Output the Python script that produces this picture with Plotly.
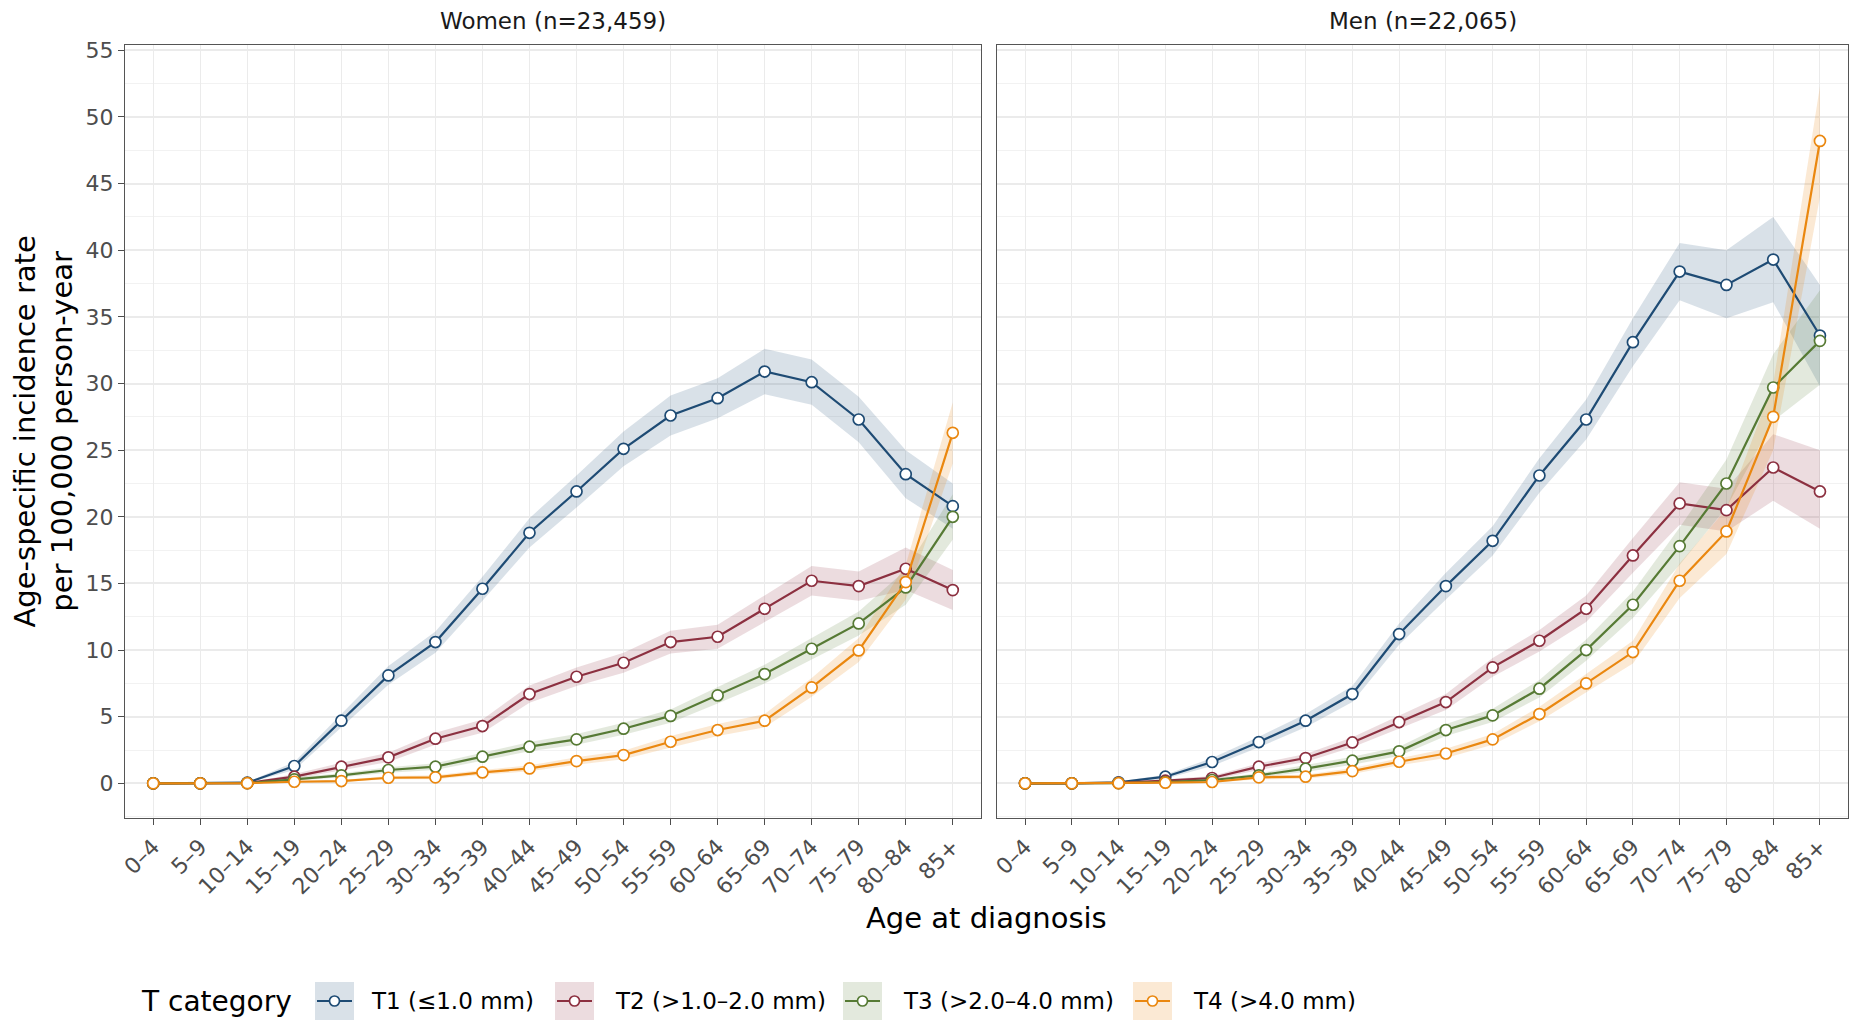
import plotly.graph_objects as go

ages = ["0–4", "5–9", "10–14", "15–19", "20–24", "25–29", "30–34", "35–39", "40–44",
        "45–49", "50–54", "55–59", "60–64", "65–69", "70–74", "75–79", "80–84", "85+"]

categories = ["T1 (≤1.0 mm)", "T2 (>1.0–2.0 mm)", "T3 (>2.0–4.0 mm)", "T4 (>4.0 mm)"]
colors = ["#1E4B74", "#8C3040", "#567A34", "#EA870F"]
fills = ["rgba(30,75,116,0.17)", "rgba(140,48,64,0.17)", "rgba(86,122,52,0.17)", "rgba(234,135,15,0.18)"]

panel_titles = ["Women (n=23,459)", "Men (n=22,065)"]
legend_title = "T category"

# Women
women_t1 = [0, 0, 0.05, 1.3, 4.7, 8.1, 10.6, 14.6, 18.8, 21.9, 25.1, 27.6, 28.9, 30.9, 30.1, 27.3, 23.2, 20.8]
women_t1_lo = [0, 0, 0.02, 1.0, 4.2, 7.4, 9.8, 13.7, 17.7, 20.7, 23.8, 26.1, 27.4, 29.2, 28.4, 25.6, 21.4, 19.1]
women_t1_hi = [0, 0, 0.1, 1.6, 5.2, 8.8, 11.4, 15.5, 19.9, 23.1, 26.4, 29.1, 30.4, 32.6, 31.8, 29.0, 25.0, 22.5]

women_t2 = [0, 0, 0.02, 0.5, 1.25, 1.95, 3.35, 4.3, 6.7, 8.0, 9.05, 10.6, 11.0, 13.1, 15.2, 14.8, 16.1, 14.5]
women_t2_lo = [0, 0, 0, 0.35, 0.95, 1.6, 2.9, 3.8, 6.05, 7.3, 8.3, 9.75, 10.1, 12.1, 14.1, 13.7, 14.5, 13.0]
women_t2_hi = [0, 0, 0.05, 0.7, 1.55, 2.3, 3.8, 4.8, 7.35, 8.7, 9.8, 11.45, 11.9, 14.1, 16.3, 15.9, 17.7, 16.0]

women_t3 = [0, 0, 0.02, 0.3, 0.6, 1.0, 1.25, 2.0, 2.75, 3.3, 4.1, 5.06, 6.6, 8.2, 10.1, 12.0, 14.7, 20.0]
women_t3_lo = [0, 0, 0, 0.2, 0.45, 0.8, 1.0, 1.7, 2.4, 2.9, 3.65, 4.55, 6.0, 7.5, 9.3, 11.1, 13.4, 18.3]
women_t3_hi = [0, 0, 0.05, 0.45, 0.75, 1.2, 1.5, 2.3, 3.1, 3.7, 4.55, 5.55, 7.2, 8.9, 10.9, 12.9, 16.0, 21.7]

women_t4 = [0, 0, 0.01, 0.12, 0.17, 0.42, 0.45, 0.82, 1.12, 1.67, 2.12, 3.12, 4.0, 4.7, 7.2, 9.97, 15.1, 26.3]
women_t4_lo = [0, 0, 0, 0.05, 0.1, 0.3, 0.3, 0.65, 0.9, 1.4, 1.8, 2.7, 3.55, 4.2, 6.5, 9.1, 13.8, 24.0]
women_t4_hi = [0, 0, 0.03, 0.2, 0.25, 0.55, 0.6, 1.0, 1.35, 1.95, 2.45, 3.55, 4.45, 5.2, 7.9, 10.9, 16.4, 28.6]

# Men
men_t1 = [0, 0, 0.08, 0.5, 1.6, 3.1, 4.7, 6.7, 11.2, 14.8, 18.2, 23.1, 27.3, 33.1, 38.4, 37.4, 39.3, 33.6]
men_t1_lo = [0, 0, 0.03, 0.35, 1.3, 2.7, 4.2, 6.1, 10.4, 13.8, 17.1, 21.8, 25.8, 31.3, 36.25, 34.9, 36.1, 29.8]
men_t1_hi = [0, 0, 0.13, 0.65, 1.9, 3.5, 5.2, 7.3, 12.0, 15.8, 19.3, 24.4, 28.8, 34.9, 40.55, 40.0, 42.5, 37.4]

men_t2 = [0, 0, 0.03, 0.2, 0.4, 1.25, 1.9, 3.07, 4.6, 6.1, 8.7, 10.7, 13.1, 17.1, 21.0, 20.5, 23.7, 21.9]
men_t2_lo = [0, 0, 0, 0.1, 0.25, 1.0, 1.6, 2.7, 4.1, 5.5, 8.0, 9.9, 12.1, 15.8, 19.4, 18.9, 21.2, 19.1]
men_t2_hi = [0, 0, 0.06, 0.3, 0.55, 1.5, 2.2, 3.45, 5.1, 6.7, 9.4, 11.5, 14.1, 18.4, 22.6, 22.1, 26.2, 25.0]

men_t3 = [0, 0, 0.02, 0.1, 0.25, 0.6, 1.1, 1.7, 2.4, 4.0, 5.1, 7.1, 10.0, 13.4, 17.8, 22.5, 29.7, 33.2]
men_t3_lo = [0, 0, 0, 0.05, 0.15, 0.45, 0.85, 1.4, 2.05, 3.55, 4.6, 6.45, 9.2, 12.4, 16.4, 20.7, 27.2, 29.9]
men_t3_hi = [0, 0, 0.04, 0.15, 0.35, 0.75, 1.35, 2.0, 2.75, 4.45, 5.6, 7.75, 10.8, 14.4, 19.2, 24.3, 32.2, 37.0]

men_t4 = [0, 0, 0.01, 0.05, 0.1, 0.45, 0.5, 0.92, 1.62, 2.24, 3.3, 5.2, 7.5, 9.85, 15.2, 18.9, 27.5, 48.2]
men_t4_lo = [0, 0, 0, 0.02, 0.05, 0.3, 0.35, 0.7, 1.35, 1.9, 2.9, 4.65, 6.8, 9.0, 13.9, 17.2, 25.0, 44.0]
men_t4_hi = [0, 0, 0.02, 0.08, 0.15, 0.6, 0.65, 1.15, 1.9, 2.6, 3.7, 5.75, 8.2, 10.7, 16.5, 20.6, 30.0, 52.3]

y_ticks = [0, 5, 10, 15, 20, 25, 30, 35, 40, 45, 50, 55]

panels = [
    [(women_t1, women_t1_lo, women_t1_hi), (women_t2, women_t2_lo, women_t2_hi),
     (women_t3, women_t3_lo, women_t3_hi), (women_t4, women_t4_lo, women_t4_hi)],
    [(men_t1, men_t1_lo, men_t1_hi), (men_t2, men_t2_lo, men_t2_hi),
     (men_t3, men_t3_lo, men_t3_hi), (men_t4, men_t4_lo, men_t4_hi)],
]

FONT = "DejaVu Sans"
W, H = 1854, 1021
xi = list(range(len(ages)))

fig = go.Figure()

for p, series in enumerate(panels):
    xa = "x" if p == 0 else "x2"
    ya = "y" if p == 0 else "y2"
    for k, (val, lo, hi) in enumerate(series):
        fig.add_trace(go.Scatter(
            x=xi + xi[::-1], y=hi + lo[::-1], fill="toself", fillcolor=fills[k],
            line=dict(width=0), mode="lines", hoverinfo="skip", showlegend=False,
            xaxis=xa, yaxis=ya))
    for k, (val, lo, hi) in enumerate(series):
        fig.add_trace(go.Scatter(
            x=xi, y=val, mode="lines+markers", name=categories[k],
            line=dict(color=colors[k], width=2.2),
            marker=dict(symbol="circle", size=11, color="white",
                        line=dict(color=colors[k], width=1.7)),
            showlegend=False, xaxis=xa, yaxis=ya))

L1, R1 = 125 / W, 981 / W
L2, R2 = 997 / W, 1848 / W
B, T = 1 - 818 / H, 1 - 45 / H

common_x = dict(
    tickmode="array", tickvals=xi, ticktext=ages, range=[-0.6, 17.6],
    tickangle=-45, tickfont=dict(family=FONT, size=22, color="#4D4D4D"),
    ticks="outside", ticklen=6, tickcolor="#4D4D4D", tickwidth=1,
    showgrid=True, gridcolor="#EBEBEB", gridwidth=1.2,
    showline=True, linecolor="#555555", linewidth=1.2, mirror=True,
    zeroline=False, fixedrange=True,
)
common_y = dict(
    range=[-2.6, 55.4], tickmode="array", tickvals=y_ticks,
    showgrid=True, gridcolor="#EBEBEB", gridwidth=1.6,
    minor=dict(dtick=2.5, tick0=0, showgrid=True, gridcolor="#F2F2F2", gridwidth=1),
    showline=True, linecolor="#555555", linewidth=1.2, mirror=True,
    zeroline=False, fixedrange=True,
)

fig.update_layout(
    width=W, height=H,
    margin=dict(l=0, r=0, t=0, b=0, autoexpand=False),
    paper_bgcolor="white", plot_bgcolor="white",
    font=dict(family=FONT, color="black"),
    xaxis=dict(domain=[L1, R1], anchor="y", **common_x),
    xaxis2=dict(domain=[L2, R2], anchor="y2", **common_x),
    yaxis=dict(domain=[B, T], anchor="x", ticks="outside", ticklen=6, tickcolor="#4D4D4D",
               tickfont=dict(family=FONT, size=22, color="#4D4D4D"), **common_y),
    yaxis2=dict(domain=[B, T], anchor="x2", matches="y", showticklabels=False, ticks="", **common_y),
    showlegend=False,
)

annotations = [
    dict(text=panel_titles[0], x=(L1 + R1) / 2, y=1 - 21 / H, xref="paper", yref="paper",
         showarrow=False, font=dict(family=FONT, size=23, color="#1A1A1A"), xanchor="center", yanchor="middle"),
    dict(text=panel_titles[1], x=(L2 + R2) / 2, y=1 - 21 / H, xref="paper", yref="paper",
         showarrow=False, font=dict(family=FONT, size=23, color="#1A1A1A"), xanchor="center", yanchor="middle"),
    dict(text="Age at diagnosis", x=(L1 + R2) / 2, y=1 - 918 / H, xref="paper", yref="paper",
         showarrow=False, font=dict(family=FONT, size=29, color="black"), xanchor="center", yanchor="middle"),
    dict(text="Age-specific incidence rate<br>per 100,000 person-year", x=43 / W, y=(B + T) / 2,
         xref="paper", yref="paper", textangle=-90, showarrow=False,
         font=dict(family=FONT, size=29, color="black"), xanchor="center", yanchor="middle"),
    dict(text=legend_title, x=139 / W, y=1 - 1001 / H, xref="paper", yref="paper",
         showarrow=False, font=dict(family=FONT, size=28, color="black"), xanchor="left", yanchor="middle"),
]

# hand-built legend (key box with band fill, line and open marker, then label)
key_left = [315, 555, 843, 1133]
text_left = [369, 613, 901, 1191]
key_w, key_top, key_bot = 39, 982, 1020
ky = 1 - 1001 / H
shapes = []
for k in range(len(categories)):
    x0 = key_left[k] / W
    x1 = (key_left[k] + key_w) / W
    xc = (key_left[k] + key_w / 2) / W
    shapes.append(dict(type="rect", xref="paper", yref="paper", x0=x0, x1=x1,
                       y0=1 - key_bot / H, y1=1 - key_top / H, fillcolor=fills[k], line=dict(width=0), layer="below"))
    shapes.append(dict(type="line", xref="paper", yref="paper", x0=(key_left[k] + 2) / W,
                       x1=(key_left[k] + key_w - 2) / W, y0=ky, y1=ky,
                       line=dict(color=colors[k], width=2.2)))
    shapes.append(dict(type="circle", xref="paper", yref="paper",
                       x0=xc - 5 / W, x1=xc + 5 / W, y0=ky - 5 / H, y1=ky + 5 / H,
                       fillcolor="white", line=dict(color=colors[k], width=1.7)))
    annotations.append(dict(text=categories[k], x=text_left[k] / W, y=ky, xref="paper", yref="paper",
                            showarrow=False, font=dict(family=FONT, size=23, color="black"),
                            xanchor="left", yanchor="middle"))

fig.update_layout(annotations=annotations, shapes=shapes)

fig.write_html("out.html")
